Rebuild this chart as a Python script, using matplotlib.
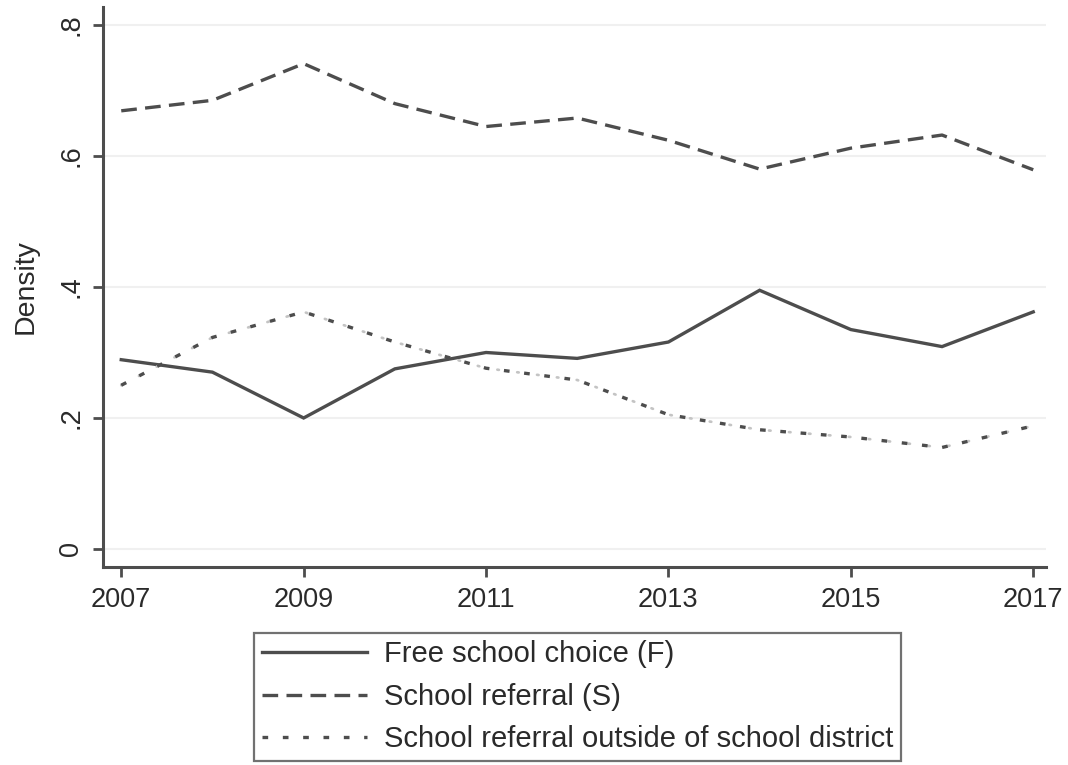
import matplotlib
matplotlib.use("Agg")
import matplotlib.pyplot as plt

plt.rcParams['font.family'] = ['Liberation Sans', 'DejaVu Sans']

years = [2007, 2008, 2009, 2010, 2011, 2012, 2013, 2014, 2015, 2016, 2017]
free_choice = [0.289, 0.270, 0.200, 0.275, 0.300, 0.291, 0.316, 0.395, 0.335, 0.309, 0.362]
school_referral = [0.669, 0.685, 0.741, 0.680, 0.645, 0.658, 0.624, 0.580, 0.612, 0.632, 0.579]
referral_outside = [0.250, 0.323, 0.362, 0.316, 0.276, 0.258, 0.205, 0.182, 0.171, 0.155, 0.188]

series_labels = ["Free school choice (F)", "School referral (S)",
                 "School referral outside of school district"]
x_ticks = [2007, 2009, 2011, 2013, 2015, 2017]
y_ticks = [0, 0.2, 0.4, 0.6, 0.8]
y_ticklabels = ["0", ".2", ".4", ".6", ".8"]

ink = "#4d4d4d"
text_ink = "#2a2a2a"
fig = plt.figure(figsize=(10.68, 7.65), dpi=100)
ax = fig.add_axes([103 / 1068, 1 - 567 / 765, (1046 - 103) / 1068, (567 - 7) / 765])

lw = 2.4
ax.plot(years, free_choice, color=ink, lw=lw, solid_joinstyle='miter',
        label=series_labels[0])
ax.plot(years, school_referral, color=ink, lw=lw, dashes=(4.7, 2.5),
        label=series_labels[1])
# faint dots sitting between the dark short dashes
ax.plot(years, referral_outside, color="#c4c4c4", lw=lw * 0.8,
        dashes=(0.6, 6.9), dash_capstyle='round')
ax.plot(years, referral_outside, color=ink, lw=lw, dashes=(1.7, 4.4),
        label=series_labels[2])

ax.set_xlim(2006.8, 2017.14)
ax.set_ylim(-0.0275, 0.8275)
ax.set_xticks(x_ticks)
ax.set_yticks(y_ticks)
ax.set_yticklabels(y_ticklabels, rotation=90, va='center')
ax.set_ylabel("Density", fontsize=20.5, color=text_ink, labelpad=14)

for side in ("top", "right"):
    ax.spines[side].set_visible(False)
for side in ("left", "bottom"):
    ax.spines[side].set_color(ink)
    ax.spines[side].set_linewidth(2.2)
ax.tick_params(axis='both', colors=ink, width=2.0, length=7.5, labelsize=19.5,
               labelcolor=text_ink)
ax.tick_params(axis='y', pad=6)
ax.tick_params(axis='x', pad=7)
ax.grid(axis='y', color="#f0f0f0", lw=1.5)
ax.set_axisbelow(True)

leg = fig.legend(loc='upper center', bbox_to_anchor=(577.5 / 1068, 1 - 633 / 765),
                 fontsize=21, frameon=True, fancybox=False, handlelength=3.6,
                 handletextpad=0.6, borderpad=0.25, labelspacing=0.5,
                 borderaxespad=0)
leg.get_frame().set_edgecolor(ink)
leg.get_frame().set_linewidth(1.6)
for t in leg.get_texts():
    t.set_color(text_ink)

fig.savefig("out.png", dpi=100, facecolor="white")
